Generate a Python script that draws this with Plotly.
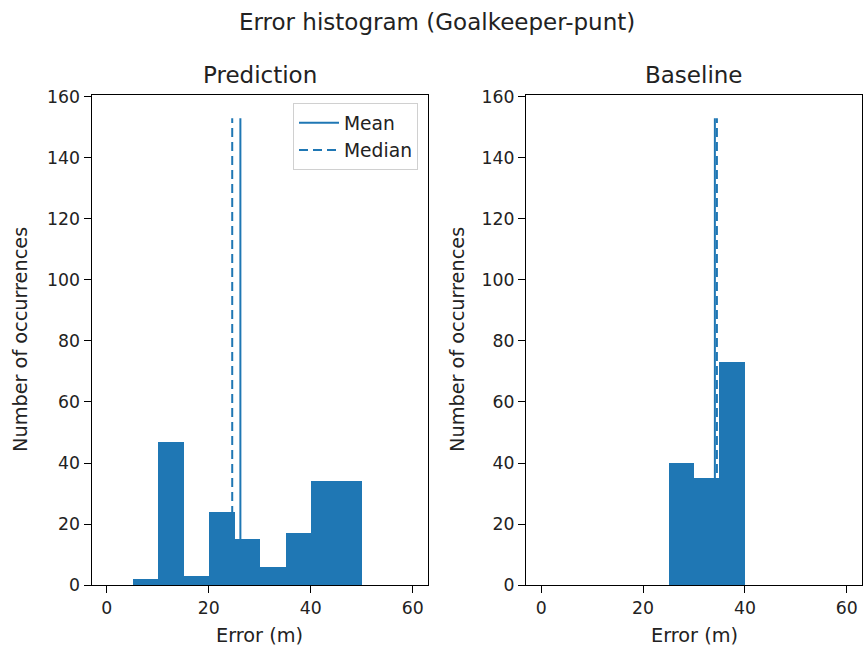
import plotly.graph_objects as go

# Data
bin_width = 5
pred_bin_left = [5, 10, 15, 20, 25, 30, 35, 40, 45]
pred_counts = [2, 47, 3, 24, 15, 6, 17, 34, 34]
base_bin_left = [25, 30, 35]
base_counts = [40, 35, 73]
pred_mean, pred_median = 26.2, 24.6
base_mean, base_median = 34.1, 34.5
line_top = 153
x_ticks = [0, 20, 40, 60]
y_ticks = [0, 20, 40, 60, 80, 100, 120, 140, 160]

BLUE = "#1f77b4"
W, H = 863, 650
FONT = "DejaVu Sans"

fig = go.Figure()

def centers(lefts):
    return [l + bin_width / 2 for l in lefts]

fig.add_trace(go.Bar(x=centers(pred_bin_left), y=pred_counts, width=bin_width,
                     marker=dict(color=BLUE, line=dict(width=0)), showlegend=False,
                     xaxis="x", yaxis="y"))
fig.add_trace(go.Bar(x=centers(base_bin_left), y=base_counts, width=bin_width,
                     marker=dict(color=BLUE, line=dict(width=0)), showlegend=False,
                     xaxis="x2", yaxis="y2"))

shapes = []
for xref, yref, mean, med, legend in [("x", "y", pred_mean, pred_median, True),
                                      ("x2", "y2", base_mean, base_median, False)]:
    shapes.append(dict(type="line", xref=xref, yref=yref, x0=mean, x1=mean, y0=0, y1=line_top,
                       line=dict(color=BLUE, width=2), layer="below",
                       showlegend=legend, name="Mean", legendrank=1))
    shapes.append(dict(type="line", xref=xref, yref=yref, x0=med, x1=med, y0=0, y1=line_top,
                       line=dict(color=BLUE, width=2, dash="9px,5px"), layer="below",
                       showlegend=legend, name="Median", legendrank=2))

yd = [1 - 585 / H, 1 - 95 / H]
axis_common = dict(showline=True, mirror=True, linecolor="black", linewidth=1,
                   ticks="outside", ticklen=7, tickwidth=1, tickcolor="black", showgrid=False,
                   zeroline=False, automargin=False,
                   tickfont=dict(size=17.3, color="#222222", family=FONT))
xcommon = dict(axis_common, range=[-3, 63], tickvals=x_ticks)
ycommon = dict(axis_common, range=[0, 160.65], tickvals=y_ticks)

TXT = dict(family=FONT, color="#222222")
ax1 = [91.5, 428]
ax2 = [526, 862]

def ann(text, x, y, size, angle=0):
    return dict(text=text, x=x / W, y=1 - y / H, xref="paper", yref="paper", showarrow=False,
                font=dict(TXT, size=size), xanchor="center", yanchor="middle", textangle=angle)

fig.update_layout(
    width=W, height=H,
    margin=dict(l=0, r=0, t=0, b=0),
    paper_bgcolor="white", plot_bgcolor="white",
    font=dict(family=FONT, color="black"),
    shapes=shapes,
    bargap=0,
    xaxis=dict(xcommon, domain=[ax1[0] / W, ax1[1] / W], anchor="y"),
    yaxis=dict(ycommon, domain=yd, anchor="x"),
    xaxis2=dict(xcommon, domain=[ax2[0] / W, ax2[1] / W], anchor="y2"),
    yaxis2=dict(ycommon, domain=yd, anchor="x2"),
    legend=dict(x=418 / W, y=1 - 103 / H, xanchor="right", yanchor="top",
                itemwidth=40,
                bgcolor="rgba(255,255,255,0.8)", bordercolor="#d0d0d0", borderwidth=1,
                font=dict(TXT, size=18.7)),
    annotations=[
        ann("Error histogram (Goalkeeper-punt)", 437, 22, 23),
        ann("Prediction", sum(ax1) / 2, 75, 23),
        ann("Baseline", sum(ax2) / 2, 75, 23),
        ann("Error (m)", sum(ax1) / 2, 635, 19.3),
        ann("Error (m)", sum(ax2) / 2, 635, 19.3),
        ann("Number of occurrences", 20, 340, 19.3, -90),
        ann("Number of occurrences", 457, 340, 19.3, -90),
    ],
)

fig.write_html("out.html")
